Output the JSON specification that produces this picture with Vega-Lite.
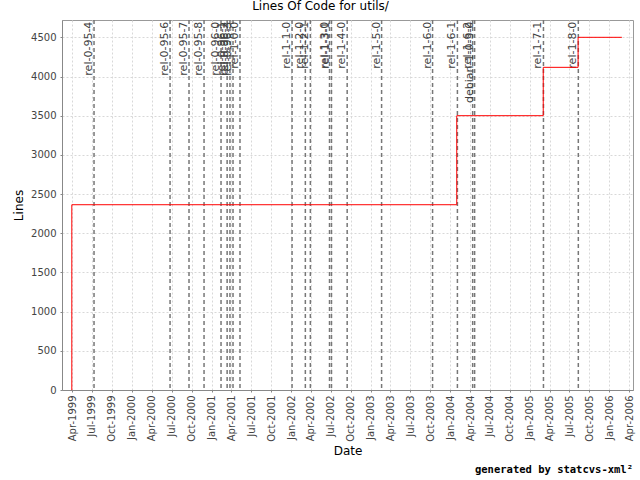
{
  "$schema": "https://vega.github.io/schema/vega-lite/v6.json",
  "width": 571,
  "height": 370,
  "autosize": {"type": "none"},
  "padding": {"left": 62, "top": 20, "right": 7, "bottom": 90},
  "background": "white",
  "title": {"text": "Lines Of Code for utils/", "fontSize": 12, "fontWeight": "normal", "font": "DejaVu Sans", "color": "#000", "offset": 6, "dx": -27},
  "config": {"view": {"stroke": "#999"}, "font": "DejaVu Sans"},
  "datasets": {
    "loc": [
      {"date": "1999-03-30", "loc": 0},
      {"date": "1999-03-31", "loc": 2364},
      {"date": "2004-01-31", "loc": 3500},
      {"date": "2005-03-03", "loc": 4117},
      {"date": "2005-08-10", "loc": 4500},
      {"date": "2006-02-27", "loc": 4500}
    ],
    "tags": [
      {"date": "1999-07-11", "tag": "rel-0-95-4"},
      {"date": "2000-06-24", "tag": "rel-0-95-6"},
      {"date": "2000-09-19", "tag": "rel-0-95-7"},
      {"date": "2000-11-27", "tag": "rel-0-95-8"},
      {"date": "2001-02-13", "tag": "rel-0-96-0"},
      {"date": "2001-03-13", "tag": "rel-0-96-1"},
      {"date": "2001-03-26", "tag": "rel-0-96-2"},
      {"date": "2001-04-09", "tag": "rel-0-96-3"},
      {"date": "2001-05-11", "tag": "rel-1-0-0"},
      {"date": "2002-01-05", "tag": "rel-1-1-0"},
      {"date": "2002-03-07", "tag": "rel-1-2-0"},
      {"date": "2002-03-30", "tag": "rel-1-2-1"},
      {"date": "2002-06-26", "tag": "rel-1-3-0"},
      {"date": "2002-07-05", "tag": "rel-1-3-1"},
      {"date": "2002-09-15", "tag": "rel-1-4-0"},
      {"date": "2003-02-20", "tag": "rel-1-5-0"},
      {"date": "2003-10-12", "tag": "rel-1-6-0"},
      {"date": "2004-02-03", "tag": "rel-1-6-1"},
      {"date": "2004-04-13", "tag": "rel-1-6-2"},
      {"date": "2004-04-22", "tag": "debian-1-0-3-0"},
      {"date": "2005-03-04", "tag": "rel-1-7-1"},
      {"date": "2005-08-11", "tag": "rel-1-8-0"}
    ],
    "credit": [{"t": "generated by statcvs-xml²"}]
  },
  "layer": [
    {
      "data": {"name": "tags"},
      "mark": {"type": "rule", "stroke": "#777", "strokeDash": [4, 3], "strokeWidth": 1.5},
      "encoding": {
        "x": {
          "field": "date", "type": "temporal",
          "scale": {"domain": [{"year": 1999, "month": 2, "date": 14}, {"year": 2006, "month": 4, "date": 19}]},
          "axis": {
            "title": "Date", "format": "%b-%Y", "labelAngle": 270,
            "tickCount": {"interval": "month", "step": 3},
            "grid": true, "gridDash": [2, 2], "gridColor": "#d8d8d8",
            "domainColor": "#888", "tickColor": "#888", "tickSize": 2,
            "labelFontSize": 10, "labelColor": "#444", "labelPadding": 3,
            "labelFlush": false, "labelOverlap": false,
            "titleFontSize": 12, "titleFontWeight": "normal", "titleColor": "#000",
            "titleY": 60, "titleBaseline": "middle"
          }
        }
      }
    },
    {
      "data": {"name": "tags"},
      "mark": {"type": "text", "angle": 270, "align": "right", "baseline": "alphabetic", "fontSize": 11, "dy": -2, "color": "#404040"},
      "encoding": {
        "x": {"field": "date", "type": "temporal"},
        "y": {"datum": 4700, "type": "quantitative", "scale": {"domain": [0, 4721]}},
        "text": {"field": "tag"}
      }
    },
    {
      "data": {"name": "loc"},
      "mark": {"type": "line", "interpolate": "step-after", "color": "#ff0000", "strokeWidth": 1},
      "encoding": {
        "x": {"field": "date", "type": "temporal"},
        "y": {
          "field": "loc", "type": "quantitative",
          "scale": {"domain": [0, 4721], "nice": false},
          "axis": {
            "title": "Lines", "format": "d",
            "values": [0, 250, 500, 750, 1000, 1250, 1500, 1750, 2000, 2250, 2500, 2750, 3000, 3250, 3500, 3750, 4000, 4250, 4500],
            "grid": true, "gridDash": [2, 2], "gridColor": "#d8d8d8",
            "domainColor": "#888", "tickColor": "#888", "tickSize": 2,
            "labelFontSize": 10, "labelColor": "#444", "labelPadding": 4,
            "titleFontSize": 12, "titleFontWeight": "normal", "titleColor": "#000",
            "titleX": -44, "titleBaseline": "middle"
          }
        }
      }
    },
    {
      "data": {"name": "credit"},
      "mark": {"type": "text", "align": "right", "baseline": "middle", "font": "DejaVu Sans Mono", "fontSize": 10.5, "fontWeight": "bold", "color": "#000"},
      "encoding": {
        "x": {"datum": {"year": 2006, "month": 4, "date": 19}, "type": "temporal"},
        "y": {"datum": -1021, "type": "quantitative", "scale": {"domain": [0, 4721]}},
        "text": {"field": "t"}
      }
    }
  ]
}
